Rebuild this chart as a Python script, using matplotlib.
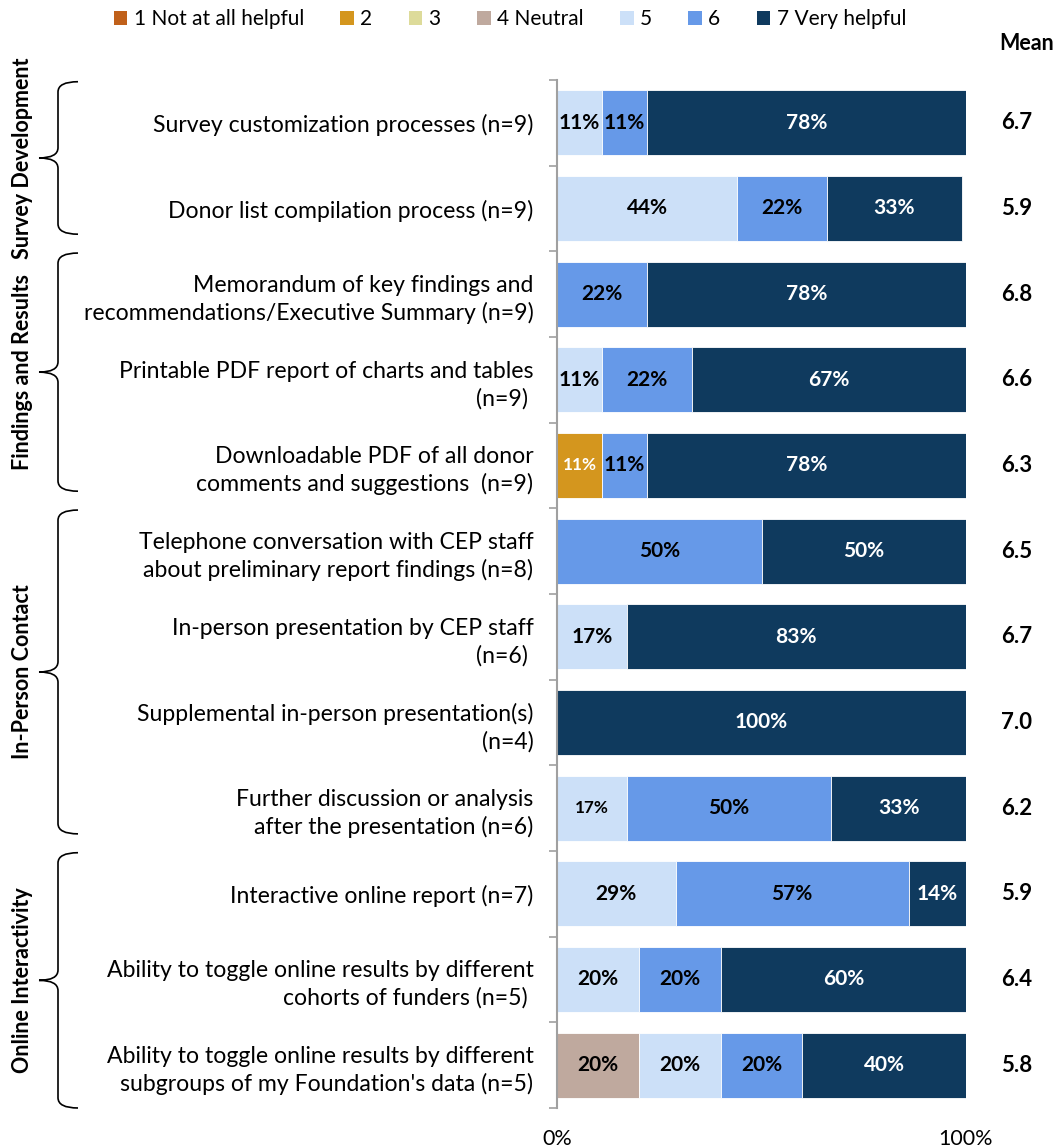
import matplotlib
matplotlib.use("Agg")
import matplotlib.pyplot as plt
from matplotlib.path import Path
from matplotlib.patches import PathPatch, Patch
from matplotlib.transforms import blended_transform_factory

plt.rcParams['font.family'] = ['Lato', 'DejaVu Sans']

items = [
    "Survey customization processes (n=9)",
    "Donor list compilation process (n=9)",
    "Memorandum of key findings and\nrecommendations/Executive Summary (n=9)",
    "Printable PDF report of charts and tables\n(n=9) ",
    "Downloadable PDF of all donor\ncomments and suggestions  (n=9)",
    "Telephone conversation with CEP staff\nabout preliminary report findings (n=8)",
    "In-person presentation by CEP staff\n(n=6) ",
    "Supplemental in-person presentation(s)\n(n=4)",
    "Further discussion or analysis\nafter the presentation (n=6)",
    "Interactive online report (n=7)",
    "Ability to toggle online results by different\ncohorts of funders (n=5) ",
    "Ability to toggle online results by different\nsubgroups of my Foundation's data (n=5)",
]

scale = ["1 Not at all helpful", "2", "3", "4 Neutral", "5", "6", "7 Very helpful"]

# percent of respondents giving each rating, columns = ratings 1..7
pct = [
    [0, 0, 0, 0, 11, 11, 78],
    [0, 0, 0, 0, 44, 22, 33],
    [0, 0, 0, 0, 0, 22, 78],
    [0, 0, 0, 0, 11, 22, 67],
    [0, 11, 0, 0, 0, 11, 78],
    [0, 0, 0, 0, 0, 50, 50],
    [0, 0, 0, 0, 17, 0, 83],
    [0, 0, 0, 0, 0, 0, 100],
    [0, 0, 0, 0, 17, 50, 33],
    [0, 0, 0, 0, 29, 57, 14],
    [0, 0, 0, 0, 20, 20, 60],
    [0, 0, 0, 20, 20, 20, 40],
]

means = [6.7, 5.9, 6.8, 6.6, 6.3, 6.5, 6.7, 7.0, 6.2, 5.9, 6.4, 5.8]

groups = ["Survey Development", "Findings and Results", "In-Person Contact", "Online Interactivity"]
group_rows = [(0, 1), (2, 4), (5, 8), (9, 11)]

colors = ["#C0601A", "#D4961E", "#DDDB9A", "#BFA99E", "#CCE0F8", "#6699E8", "#0F3A5E"]
text_colors = ["white", "white", "black", "black", "black", "black", "white"]
# labels drawn a bit smaller (row, rating index)
small = {(4, 1), (8, 4)}

W, H = 1055, 1147
fig = plt.figure(figsize=(W / 100, H / 100), dpi=100)
ax = fig.add_axes([557 / W, 1 - 1108 / H, (966 - 557) / W, (1108 - 80) / H])

n = len(items)
rows = list(range(n))
left = [0] * n
for k in range(7):
    vals = [p[k] for p in pct]
    ax.barh(rows, vals, left=left, height=0.76, color=colors[k],
            edgecolor="white", linewidth=0.6)
    for i in rows:
        if vals[i] > 0:
            fs = 12.3 if (i, k) in small else 15
            ax.text(left[i] + vals[i] / 2, i, f"{vals[i]}%", ha="center", va="center",
                    color=text_colors[k], fontsize=fs, fontweight="bold")
    left = [a + b for a, b in zip(left, vals)]

ax.set_xlim(0, 100)
ax.set_ylim(n - 0.5, -0.5)
ax.set_yticks(rows)
ax.set_yticklabels(items, fontsize=16.6, linespacing=1.35)
ax.set_yticks([r - 0.5 for r in range(n + 1)], minor=True)
ax.tick_params(axis="y", which="major", length=0, pad=17)
ax.tick_params(axis="y", which="minor", length=6, color="#A0A0A0", width=1.2)
ax.set_xticks([0, 100])
ax.set_xticklabels(["0%", "100%"], fontsize=15.5)
ax.tick_params(axis="x", length=0, pad=15)
for s in ["top", "right", "bottom"]:
    ax.spines[s].set_visible(False)
ax.spines["left"].set_color("#A0A0A0")
ax.spines["left"].set_linewidth(1.5)

# mean column on the right
tr = blended_transform_factory(fig.transFigure, ax.transData)
for i, m in enumerate(means):
    ax.text(1017 / W, i, f"{m:.1f}", transform=tr, ha="center", va="center",
            fontsize=16, fontweight="bold")
fig.text(1027 / W, 1 - 43 / H, "Mean", ha="center", va="center", fontsize=15.5, fontweight="bold")

# curly braces + group titles
xe, xv, xt = 78 / W, 58 / W, 39 / W
r = 0.12
for gi, (g, (a, b)) in enumerate(zip(groups, group_rows)):
    y0 = a - 0.48
    y1 = b + (0.5 if gi == len(groups) - 1 else 0.3)
    ym = (y0 + y1) / 2
    verts = [(xe, y0), (xv, y0), (xv, y0 + r),
             (xv, ym - r), (xv, ym), (xt, ym),
             (xv, ym), (xv, ym + r),
             (xv, y1 - r), (xv, y1), (xe, y1)]
    codes = [Path.MOVETO, Path.CURVE3, Path.CURVE3,
             Path.LINETO, Path.CURVE3, Path.CURVE3,
             Path.CURVE3, Path.CURVE3,
             Path.LINETO, Path.CURVE3, Path.CURVE3]
    patch = PathPatch(Path(verts, codes), transform=tr, fill=False,
                      edgecolor="black", linewidth=1.2, clip_on=False)
    ax.add_patch(patch)
    ax.text(23 / W, ym, g, transform=tr, rotation=90, ha="center", va="center",
            fontsize=15.5, fontweight="bold", clip_on=False)

handles = [Patch(facecolor=c) for c in colors]
fig.legend(handles, scale, loc="center", bbox_to_anchor=(510 / W, 1 - 19 / H), ncol=7,
           frameon=False, fontsize=15, handlelength=0.65, handleheight=0.65,
           handletextpad=0.3, columnspacing=1.75)

fig.savefig("out.png", dpi=100)
